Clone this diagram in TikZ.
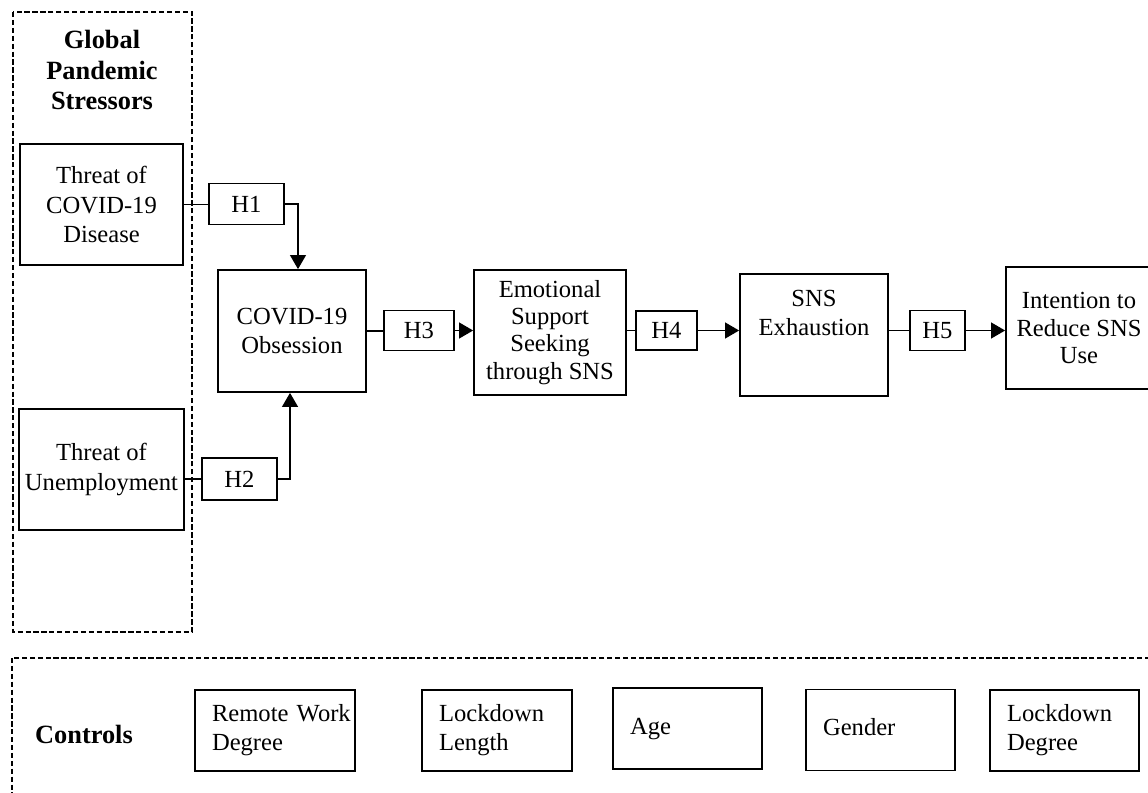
\documentclass[tikz,border=0pt]{standalone}
\usepackage{fontspec}
\setmainfont{Liberation Serif}
\usetikzlibrary{arrows.meta}

\begin{document}
\begin{tikzpicture}[x=0.02cm,y=-0.02cm,
		box/.style={draw, line width=1pt, align=center, font=\fontsize{14}{17}\selectfont},
		hyp/.style={box, minimum height=0.8cm},
		ctrl/.style={draw, line width=1pt, align=left, inner xsep=0.34cm, minimum height=1.62cm, font=\fontsize{14}{16.5}\selectfont},
		grp/.style={draw, line width=0.8pt, dash pattern=on 3pt off 1.5pt},
		arr/.style={-{Triangle[length=8pt,width=9pt]}, line width=1pt},
		con/.style={line width=1pt}]
	\useasboundingbox (0,0) rectangle (1148,793);
	\clip (0,0) rectangle (1148,793);
	
	\draw[grp] (13,12) rectangle (192,632);
	\draw[grp] (12,658) rectangle (1170,820);
	\node[align=center, font=\bfseries\fontsize{15}{17.6}\selectfont] (stress) at (102,70) {Global\\Pandemic\\Stressors};
	\node[font=\bfseries\fontsize{15}{17.6}\selectfont] (controls) at (84,734) {Controls};
	
	\node[box, minimum width=3.26cm, minimum height=2.42cm] (thrcov) at (101.5,204.5) {Threat of\\COVID-19\\Disease};
	\node[box, minimum width=3.26cm, minimum height=2.42cm] (thrunemp) at (101.5,469.5) {Threat of\\Unemployment};
	\node[box, minimum width=2.96cm, minimum height=2.44cm] (obs) at (292,331) {COVID-19\\Obsession};
	\node[box, minimum width=3.04cm, minimum height=2.5cm, font=\fontsize{14}{15.5}\selectfont] (emo) at (550,332.5) {Emotional\\Support\\Seeking\\through SNS};
	\node[box, minimum width=2.96cm, minimum height=2.44cm, label={[anchor=north, align=center, font=\fontsize{14}{16.5}\selectfont, yshift=-0.22cm]north:SNS\\Exhaustion}] (exh) at (814,335) {};
	\node[box, minimum width=2.92cm, minimum height=2.44cm, font=\fontsize{14}{15.5}\selectfont] (intent) at (1079,328) {Intention to\\Reduce SNS\\Use};
	
	\node[hyp, minimum width=1.5cm, minimum height=0.82cm] (H1) at (246.5,204) {H1};
	\node[hyp, minimum width=1.5cm, minimum height=0.84cm] (H2) at (239.5,479) {H2};
	\node[hyp, minimum width=1.4cm] (H3) at (419,330.5) {H3};
	\node[hyp, minimum width=1.22cm, minimum height=0.78cm] (H4) at (666.5,330.5) {H4};
	\node[hyp, minimum width=1.1cm] (H5) at (937.5,330.5) {H5};
	
	\draw[con] (thrcov.east) -- (thrcov.east -| H1.west);
	\draw[arr] (H1.east) -| ([xshift=0.12cm]obs.north);
	\draw[con] (H2.west) -- (H2.west -| thrunemp.east);
	\draw[arr] (H2.east) -| ([xshift=-0.04cm]obs.south);
	\draw[con] (obs.east) -- (obs.east -| H3.west);
	\draw[arr] (H3.east) -- (H3.east -| emo.west);
	\draw[con] (H4.west) -- (H4.west -| emo.east);
	\draw[arr] (H4.east) -- (H4.east -| exh.west);
	\draw[con] (H5.west) -- (H5.west -| exh.east);
	\draw[arr] (H5.east) -- (H5.east -| intent.west);
	
	\foreach \n/\x/\y/\w/\t in {rwd/275/730.5/3.2/{Remote~Work\\Degree}, ll/497/730.5/3.0/{Lockdown\\Length}, age/687.5/728.5/2.98/{Age}, gen/880.5/730/2.98/{Gender}, ld/1064.5/730.5/2.98/{Lockdown\\Degree}}{
		\node[ctrl, text width={(\w-0.68)*1cm}] (\n) at (\x,\y) {\strut\t\strut};
	}
\end{tikzpicture}
\end{document}
